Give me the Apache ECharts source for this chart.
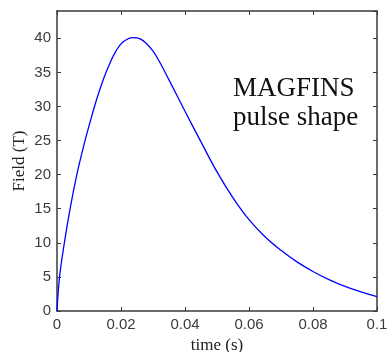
<!DOCTYPE html>
<html>
<head>
<meta charset="utf-8">
<script src="https://cdn.jsdelivr.net/npm/echarts@6/dist/echarts.min.js"></script>
<style>
html,body{margin:0;padding:0;background:#fff;}
#chart{width:391px;height:352px;}
</style>
</head>
<body>
<div id="chart"></div>
<script>
// time (s)
var times = [0, 0.0008, 0.0023, 0.0041, 0.0062, 0.0085, 0.0105, 0.0125, 0.0145, 0.0165, 0.0185, 0.0207, 0.0238, 0.026, 0.028, 0.030, 0.032, 0.035, 0.040, 0.045, 0.050, 0.055, 0.060, 0.065, 0.070, 0.075, 0.080, 0.085, 0.090, 0.095, 0.100];
// Field (T)
var field = [0, 5, 10, 15, 20, 24.5, 28, 31.2, 34.0, 36.3, 38.2, 39.5, 40.1, 39.9, 39.2, 38.1, 36.6, 33.9, 29.3, 24.8, 20.4, 16.6, 13.4, 10.9, 8.9, 7.2, 5.8, 4.6, 3.6, 2.8, 2.1];
var xTicks = [0, 0.02, 0.04, 0.06, 0.08, 0.1];
var yTicks = [0, 5, 10, 15, 20, 25, 30, 35, 40];
var annotation = ['MAGFINS', 'pulse shape'];

var data = times.map(function (t, i) { return [t, field[i]]; });
var xLabelMap = {};
xTicks.forEach(function (v) { xLabelMap[v.toFixed(2)] = String(v); });
var yLabelSet = {};
yTicks.forEach(function (v) { yLabelSet[v] = true; });

var axisColor = '#3a3a3a';
var labelColor = '#3c3c3c';
var tickFont = 'Liberation Sans';

var chart = echarts.init(document.getElementById('chart'), null, {renderer: 'canvas'});
var baseX = {
  type: 'value', min: 0, max: 0.1, interval: 0.02,
  axisLine: {show: true, onZero: false, lineStyle: {color: axisColor, width: 1.5}},
  axisTick: {show: true, inside: true, length: 4, lineStyle: {color: axisColor, width: 1}},
  splitLine: {show: false}
};
var baseY = {
  type: 'value', min: 0, max: 44, interval: 5,
  axisLine: {show: true, onZero: false, lineStyle: {color: axisColor, width: 1.5}},
  axisTick: {show: true, inside: true, length: 4, lineStyle: {color: axisColor, width: 1}},
  splitLine: {show: false}
};
var option = {
  animation: false,
  grid: {left: 57, right: 14, top: 11, bottom: 41, containLabel: false, outerBoundsMode: 'none'},
  xAxis: [
    Object.assign({}, baseX, {
      position: 'bottom',
      name: 'time (s)', nameLocation: 'middle', nameGap: 19,
      nameTextStyle: {fontFamily: 'Liberation Serif', fontSize: 17, color: '#222'},
      axisLabel: {show: true, margin: 6, fontFamily: tickFont, fontSize: 15, color: labelColor,
        formatter: function (v) { var k = v.toFixed(2); return xLabelMap[k] !== undefined ? xLabelMap[k] : ''; }}
    }),
    Object.assign({}, baseX, {position: 'top', axisLabel: {show: false}})
  ],
  yAxis: [
    Object.assign({}, baseY, {
      position: 'left',
      name: 'Field (T)', nameLocation: 'middle', nameGap: 29, nameRotate: 90, nameMoveOverlap: false,
      nameTextStyle: {fontFamily: 'Liberation Serif', fontSize: 17, color: '#222'},
      axisLabel: {show: true, margin: 6, fontFamily: tickFont, fontSize: 15, color: labelColor, showMaxLabel: false,
        formatter: function (v) { return yLabelSet[v] ? String(v) : ''; }}
    }),
    Object.assign({}, baseY, {position: 'right', axisLabel: {show: false}})
  ],
  series: [{
    type: 'line',
    xAxisIndex: 0, yAxisIndex: 0,
    data: data,
    smooth: 0.4,
    showSymbol: false,
    lineStyle: {color: '#0000ff', width: 1.3},
    itemStyle: {color: '#0000ff'}
  }],
  graphic: [{
    type: 'text',
    left: 233, top: 74,
    style: {
      text: annotation.join('\n'),
      fontFamily: 'Liberation Serif',
      fontSize: 27,
      lineHeight: 29,
      align: 'center',
      fill: '#111'
    }
  }]
};
chart.setOption(option);
</script>
</body>
</html>
